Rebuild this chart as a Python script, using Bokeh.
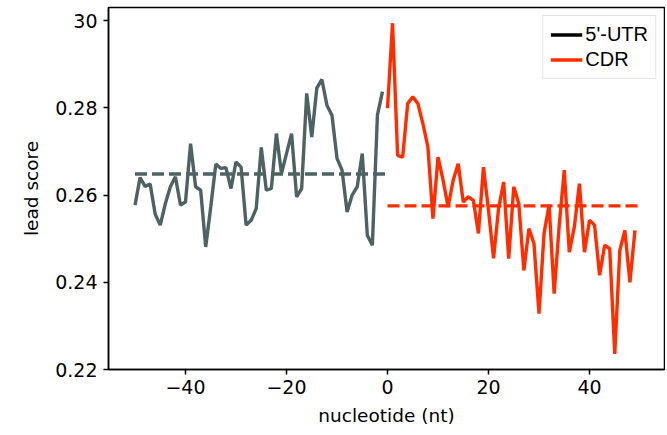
from bokeh.plotting import figure
from bokeh.models import Range1d, FixedTicker, Legend, LegendItem
from bokeh.embed import file_html
from bokeh.resources import INLINE
import numpy as np

# ---- data ----
utr_x = list(range(-50, 0))
utr_y = [0.2577, 0.2640, 0.2620, 0.2625, 0.2556, 0.2531, 0.2580, 0.2619, 0.2642, 0.2577,
         0.2584, 0.2718, 0.2619, 0.2611, 0.2481, 0.2573, 0.2671, 0.2661, 0.2663, 0.2615,
         0.2676, 0.2664, 0.2531, 0.2542, 0.2569, 0.2709, 0.2611, 0.2615, 0.2741, 0.2649,
         0.2695, 0.2741, 0.2596, 0.2615, 0.2833, 0.2733, 0.2845, 0.2865, 0.2806, 0.2783,
         0.2684, 0.2657, 0.2561, 0.2600, 0.2619, 0.2695, 0.2508, 0.2485, 0.2783, 0.2837]
cdr_x = list(range(0, 50))
cdr_y = [0.2799, 0.2994, 0.2691, 0.2687, 0.2810, 0.2825, 0.2810, 0.2764, 0.2710, 0.2546,
         0.2687, 0.2634, 0.2573, 0.2634, 0.2672, 0.2584, 0.2596, 0.2588, 0.2512, 0.2664,
         0.2565, 0.2455, 0.2570, 0.2630, 0.2454, 0.2619, 0.2580, 0.2427, 0.2523, 0.2489,
         0.2328, 0.2512, 0.2577, 0.2374, 0.2530, 0.2657, 0.2469, 0.2527, 0.2626, 0.2469,
         0.2542, 0.2531, 0.2416, 0.2485, 0.2477, 0.2236, 0.2473, 0.2519, 0.2400, 0.2519]
series_labels = ["5'-UTR", "CDR"]
x_ticks = [-40, -20, 0, 20, 40]
x_tick_labels = ["\u221240", "\u221220", "0", "20", "40"]
y_ticks = [0.22, 0.24, 0.26, 0.28, 0.3]
y_tick_labels = ["0.22", "0.24", "0.26", "0.28", "30"]

GREY = "#4e6263"
RED = "#ff2d00"
FONT = "DejaVu Sans"
LW = 3.4

p = figure(width=665, height=431,
           x_range=Range1d(-55.25, 54.85), y_range=Range1d(0.22, 0.30300),
           output_backend="svg", toolbar_location=None,
           min_border_left=108, min_border_right=1, min_border_top=7, min_border_bottom=62)

p.grid.visible = False
p.outline_line_color = "black"
p.outline_line_width = 1.5
p.background_fill_color = "white"
p.border_fill_color = "white"

# lines
p.line(utr_x, utr_y, line_color=GREY, line_width=LW)
utr_mean = float(np.mean(utr_y))
p.line([min(utr_x), max(utr_x) + 1], [utr_mean, utr_mean], line_color=GREY, line_width=LW, line_dash="12 5")
p.line(cdr_x, cdr_y, line_color=RED, line_width=LW)
cdr_mean = float(np.mean(cdr_y))
p.line([min(cdr_x), max(cdr_x) + 1], [cdr_mean, cdr_mean], line_color=RED, line_width=LW, line_dash="12 5")

# legend proxies (single point each: nothing visible in the plot area)
r_k = p.line(x=utr_x[:1], y=utr_y[:1], line_color="black", line_width=LW)
r_r = p.line(x=cdr_x[:1], y=cdr_y[:1], line_color=RED, line_width=LW)
legend = Legend(items=[LegendItem(label=series_labels[0], renderers=[r_k]),
                       LegendItem(label=series_labels[1], renderers=[r_r])],
                location="top_right")
legend.margin = 8
legend.padding = 7
legend.spacing = 2
legend.glyph_width = 32
legend.glyph_height = 21
legend.label_height = 21
legend.label_standoff = 3
legend.label_text_font = "Liberation Sans"
legend.label_text_font_size = "20px"
legend.label_text_color = "black"
legend.border_line_color = "#cccccc"
legend.border_line_width = 1
legend.background_fill_color = "white"
legend.background_fill_alpha = 0.8
p.add_layout(legend)

# axes
for ax in (p.xaxis[0], p.yaxis[0]):
    ax.axis_line_color = "black"
    ax.axis_line_width = 1.5
    ax.major_tick_line_color = "black"
    ax.major_tick_line_width = 1.5
    ax.major_tick_out = 5
    ax.major_tick_in = 0
    ax.minor_tick_line_color = None
    ax.major_label_text_font = FONT
    ax.major_label_text_font_size = "19px"
    ax.major_label_text_color = "black"
    ax.axis_label_text_font = FONT
    ax.axis_label_text_font_size = "18.5px"
    ax.axis_label_text_font_style = "normal"
    ax.axis_label_text_color = "black"

p.xaxis.ticker = FixedTicker(ticks=x_ticks)
p.xaxis.major_label_overrides = dict(zip(x_ticks, x_tick_labels))
p.xaxis.axis_label = "nucleotide (nt)"
p.xaxis.major_label_standoff = 5
p.xaxis.axis_label_standoff = 8

p.yaxis.ticker = FixedTicker(ticks=y_ticks)
p.yaxis.major_label_overrides = dict(zip(y_ticks, y_tick_labels))
p.yaxis.axis_label = "lead score"
p.yaxis.major_label_standoff = 6
p.yaxis.axis_label_standoff = 10

open("out.html", "w").write(file_html(p, INLINE))
